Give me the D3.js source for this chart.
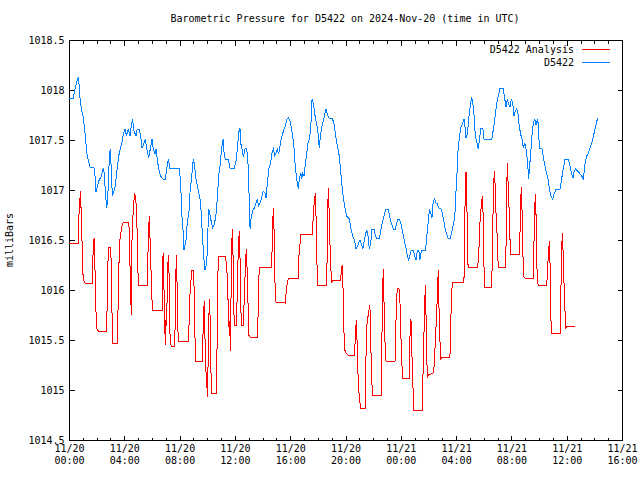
<!DOCTYPE html>
<html>
<head>
<meta charset="utf-8">
<script src="https://cdn.jsdelivr.net/npm/d3@7"></script>
<style>
  body { margin: 0; background: #fff; }
  text { font-family: "DejaVu Sans Mono", "Liberation Mono", monospace; font-size: 10px; fill: #000; }
</style>
</head>
<body>
<div id="plot"></div>
<script>
const title = 'Barometric Pressure for D5422 on 2024-Nov-20 (time in UTC)';
const yLabel = 'milliBars';
const startTime = '2024-11-20T00:00:00Z';
const seriesNames = ['D5422 Analysis', 'D5422'];
const yTicks = [1014.5, 1015, 1015.5, 1016, 1016.5, 1017, 1017.5, 1018, 1018.5];
const xTickHours = [0, 4, 8, 12, 16, 20, 24, 28, 32, 36, 40];

// [minutes after start, mb]
const stationReadings = [[0,1017.92],[19,1017.92],[26,1018.01],[33,1018.08],[40,1018.12],[45,1018.04],[48,1017.91],[55,1017.79],[62,1017.73],[69,1017.58],[77,1017.38],[84,1017.29],[91,1017.23],[110,1017.22],[114,1017.11],[117,1016.98],[123,1017.03],[132,1017.11],[138,1017.12],[146,1017.19],[149,1017.22],[153,1017.16],[159,1016.94],[164,1016.82],[169,1016.97],[175,1017.31],[179,1017.41],[184,1017.18],[188,1016.94],[195,1016.99],[201,1017.04],[210,1017.24],[218,1017.37],[229,1017.47],[236,1017.56],[243,1017.61],[250,1017.54],[257,1017.61],[265,1017.54],[269,1017.62],[276,1017.71],[282,1017.59],[291,1017.54],[296,1017.61],[305,1017.61],[311,1017.54],[317,1017.42],[326,1017.47],[331,1017.51],[337,1017.42],[346,1017.32],[355,1017.44],[360,1017.51],[366,1017.41],[373,1017.36],[378,1017.41],[383,1017.31],[389,1017.21],[398,1017.14],[407,1017.11],[418,1017.11],[424,1017.21],[431,1017.31],[438,1017.22],[479,1017.22],[485,1017.04],[489,1016.77],[496,1016.57],[499,1016.40],[508,1016.50],[513,1016.67],[522,1016.81],[525,1016.97],[537,1017.24],[539,1017.31],[544,1017.26],[551,1017.11],[557,1017.04],[569,1016.91],[574,1016.77],[580,1016.50],[586,1016.30],[590,1016.20],[598,1016.27],[604,1016.67],[607,1016.81],[613,1016.74],[619,1016.66],[624,1016.62],[632,1016.67],[639,1016.77],[645,1016.97],[651,1017.17],[657,1017.27],[662,1017.41],[669,1017.51],[673,1017.37],[678,1017.31],[691,1017.31],[699,1017.22],[717,1017.22],[725,1017.29],[732,1017.44],[736,1017.57],[742,1017.62],[745,1017.47],[751,1017.41],[756,1017.34],[761,1017.37],[765,1017.42],[771,1017.41],[776,1017.31],[780,1017.11],[783,1016.77],[786,1016.61],[790,1016.71],[797,1016.79],[804,1016.82],[812,1016.87],[817,1016.91],[823,1016.84],[829,1016.87],[836,1016.92],[843,1016.99],[851,1016.97],[855,1016.92],[861,1017.07],[868,1017.22],[875,1017.27],[881,1017.37],[887,1017.41],[893,1017.34],[898,1017.37],[904,1017.41],[910,1017.36],[916,1017.44],[921,1017.51],[927,1017.56],[933,1017.61],[939,1017.64],[945,1017.71],[953,1017.72],[959,1017.69],[965,1017.62],[971,1017.54],[977,1017.41],[981,1017.27],[985,1017.17],[991,1017.07],[995,1017.01],[1000,1017.11],[1006,1017.17],[1010,1017.11],[1014,1017.17],[1020,1017.14],[1026,1017.26],[1032,1017.37],[1037,1017.47],[1043,1017.51],[1049,1017.62],[1055,1017.91],[1059,1017.88],[1062,1017.84],[1068,1017.74],[1072,1017.69],[1078,1017.62],[1082,1017.54],[1086,1017.42],[1092,1017.56],[1098,1017.64],[1104,1017.69],[1110,1017.76],[1115,1017.81],[1121,1017.76],[1127,1017.72],[1144,1017.71],[1150,1017.66],[1156,1017.57],[1162,1017.47],[1169,1017.39],[1173,1017.34],[1177,1017.24],[1182,1017.11],[1188,1016.97],[1194,1016.87],[1199,1016.81],[1205,1016.74],[1217,1016.71],[1223,1016.62],[1231,1016.54],[1240,1016.49],[1246,1016.41],[1254,1016.45],[1263,1016.50],[1269,1016.46],[1275,1016.41],[1280,1016.48],[1286,1016.55],[1292,1016.60],[1298,1016.54],[1303,1016.42],[1309,1016.45],[1315,1016.61],[1324,1016.61],[1329,1016.55],[1335,1016.52],[1347,1016.52],[1353,1016.59],[1358,1016.66],[1364,1016.71],[1370,1016.77],[1376,1016.81],[1384,1016.81],[1390,1016.76],[1396,1016.69],[1402,1016.65],[1407,1016.61],[1416,1016.61],[1422,1016.67],[1428,1016.71],[1433,1016.71],[1440,1016.67],[1445,1016.61],[1451,1016.54],[1457,1016.47],[1463,1016.42],[1468,1016.35],[1474,1016.30],[1480,1016.35],[1486,1016.40],[1494,1016.40],[1500,1016.34],[1506,1016.30],[1512,1016.39],[1518,1016.40],[1523,1016.30],[1529,1016.39],[1538,1016.40],[1546,1016.40],[1552,1016.49],[1555,1016.61],[1561,1016.71],[1564,1016.81],[1570,1016.77],[1575,1016.72],[1581,1016.89],[1587,1016.91],[1593,1016.87],[1599,1016.86],[1605,1016.82],[1616,1016.81],[1622,1016.74],[1628,1016.67],[1633,1016.61],[1639,1016.56],[1645,1016.52],[1654,1016.51],[1659,1016.56],[1665,1016.62],[1671,1016.69],[1677,1016.81],[1680,1017.01],[1683,1017.11],[1687,1017.36],[1694,1017.52],[1700,1017.62],[1709,1017.67],[1714,1017.71],[1720,1017.61],[1723,1017.52],[1729,1017.56],[1733,1017.66],[1737,1017.76],[1743,1017.87],[1748,1017.92],[1752,1017.89],[1758,1017.74],[1762,1017.59],[1766,1017.51],[1772,1017.46],[1776,1017.41],[1781,1017.49],[1787,1017.62],[1796,1017.62],[1801,1017.51],[1835,1017.51],[1842,1017.61],[1849,1017.73],[1856,1017.86],[1863,1017.94],[1871,1018.02],[1885,1018.02],[1889,1017.94],[1897,1017.83],[1902,1017.91],[1908,1017.86],[1914,1017.83],[1920,1017.91],[1926,1017.86],[1931,1017.74],[1937,1017.79],[1943,1017.81],[1949,1017.76],[1954,1017.64],[1960,1017.56],[1966,1017.51],[1972,1017.42],[1978,1017.47],[1983,1017.42],[1989,1017.31],[1995,1017.11],[1998,1017.21],[2004,1017.37],[2009,1017.54],[2015,1017.66],[2021,1017.71],[2027,1017.65],[2033,1017.71],[2038,1017.64],[2041,1017.42],[2053,1017.41],[2058,1017.34],[2064,1017.26],[2070,1017.19],[2079,1017.11],[2085,1017.01],[2091,1016.94],[2099,1016.91],[2105,1016.96],[2114,1017.01],[2131,1017.01],[2137,1017.09],[2143,1017.19],[2153,1017.31],[2167,1017.31],[2174,1017.24],[2182,1017.16],[2187,1017.12],[2193,1017.19],[2199,1017.21],[2206,1017.19],[2215,1017.17],[2225,1017.14],[2232,1017.11],[2240,1017.27],[2247,1017.34],[2254,1017.37],[2261,1017.42],[2269,1017.47],[2276,1017.54],[2283,1017.61],[2290,1017.68],[2294,1017.72]];

const analysisReadings = [[0,1016.47],[40,1016.47],[41,1016.60],[45,1016.86],[51,1016.99],[52,1016.84],[56,1016.54],[59,1016.24],[62,1016.10],[69,1016.07],[101,1016.07],[102,1016.19],[105,1016.41],[109,1016.52],[112,1016.30],[116,1015.85],[120,1015.62],[127,1015.59],[164,1015.59],[165,1015.80],[168,1016.22],[172,1016.43],[181,1016.43],[184,1016.19],[187,1015.72],[190,1015.47],[211,1015.47],[212,1015.71],[216,1016.20],[220,1016.48],[224,1016.56],[230,1016.64],[236,1016.68],[260,1016.68],[262,1016.47],[268,1015.99],[270,1015.75],[273,1016.47],[279,1016.82],[285,1016.97],[289,1016.91],[294,1016.81],[296,1016.50],[299,1016.20],[302,1016.05],[340,1016.05],[342,1016.22],[344,1016.56],[349,1016.74],[352,1016.49],[355,1016.27],[359,1015.97],[362,1015.80],[404,1015.80],[405,1016.23],[409,1016.37],[412,1016.04],[415,1015.70],[418,1015.45],[421,1015.70],[424,1015.64],[427,1016.14],[431,1016.35],[434,1016.17],[438,1015.57],[443,1015.44],[457,1015.44],[460,1015.59],[464,1016.19],[467,1016.35],[470,1015.90],[474,1015.49],[520,1015.49],[522,1015.85],[528,1016.05],[533,1016.20],[539,1016.20],[544,1015.97],[547,1015.50],[550,1015.29],[579,1015.29],[580,1015.44],[584,1015.74],[587,1015.89],[590,1015.54],[593,1015.22],[598,1015.10],[600,1014.93],[603,1015.18],[606,1015.67],[610,1015.91],[613,1015.67],[616,1015.20],[619,1014.97],[641,1014.97],[642,1015.32],[645,1015.99],[648,1016.34],[678,1016.34],[681,1016.30],[687,1016.14],[691,1015.84],[696,1015.54],[699,1015.70],[702,1015.39],[704,1016.30],[709,1016.61],[712,1016.34],[715,1015.90],[717,1015.65],[728,1015.65],[730,1016.04],[735,1016.42],[739,1016.59],[742,1016.34],[745,1015.90],[748,1015.65],[756,1015.65],[758,1015.77],[763,1016.02],[765,1016.27],[770,1016.41],[773,1016.20],[776,1015.97],[780,1015.55],[786,1015.53],[819,1015.53],[820,1015.70],[823,1016.05],[826,1016.23],[880,1016.23],[881,1016.37],[884,1016.67],[887,1016.82],[890,1016.59],[893,1016.12],[898,1015.88],[939,1015.87],[942,1015.97],[947,1016.07],[953,1016.12],[995,1016.12],[998,1016.34],[1003,1016.47],[1006,1016.56],[1056,1016.56],[1058,1016.62],[1060,1016.76],[1065,1016.89],[1069,1016.97],[1072,1016.74],[1075,1016.42],[1078,1016.05],[1118,1016.05],[1120,1016.30],[1123,1016.77],[1125,1017.02],[1128,1016.87],[1131,1016.57],[1136,1016.24],[1140,1016.07],[1144,1016.10],[1179,1016.10],[1182,1016.20],[1186,1016.25],[1189,1016.05],[1192,1015.64],[1197,1015.40],[1202,1015.37],[1212,1015.35],[1238,1015.35],[1241,1015.44],[1244,1015.60],[1247,1015.70],[1250,1015.50],[1254,1015.17],[1260,1014.92],[1266,1014.82],[1286,1014.82],[1287,1015.14],[1292,1015.64],[1298,1015.74],[1302,1015.80],[1306,1015.85],[1309,1015.47],[1314,1015.17],[1316,1014.95],[1355,1014.95],[1357,1015.27],[1360,1015.90],[1364,1016.21],[1367,1015.90],[1371,1015.50],[1376,1015.28],[1415,1015.29],[1418,1015.47],[1420,1015.84],[1425,1016.02],[1432,1016.02],[1437,1015.85],[1440,1015.57],[1444,1015.30],[1448,1015.12],[1476,1015.12],[1477,1015.27],[1480,1015.55],[1484,1015.71],[1487,1015.49],[1490,1015.20],[1493,1015.02],[1496,1014.80],[1533,1014.80],[1535,1015.00],[1539,1015.45],[1544,1015.84],[1546,1016.05],[1549,1015.80],[1552,1015.44],[1555,1015.12],[1559,1015.15],[1581,1015.17],[1585,1015.25],[1591,1015.54],[1596,1015.77],[1600,1016.05],[1603,1016.20],[1606,1015.80],[1610,1015.49],[1613,1015.30],[1616,1015.32],[1653,1015.33],[1656,1015.50],[1659,1015.90],[1664,1016.08],[1714,1016.08],[1716,1016.34],[1719,1016.90],[1723,1017.18],[1726,1016.94],[1729,1016.61],[1732,1016.22],[1774,1016.23],[1776,1016.30],[1781,1016.49],[1784,1016.69],[1789,1016.84],[1794,1016.94],[1798,1016.71],[1801,1016.25],[1803,1016.03],[1835,1016.03],[1836,1016.21],[1839,1016.61],[1842,1016.99],[1846,1017.19],[1849,1017.07],[1852,1016.82],[1857,1016.61],[1861,1016.34],[1863,1016.23],[1895,1016.23],[1897,1016.49],[1900,1017.00],[1902,1017.27],[1905,1017.11],[1910,1016.81],[1914,1016.50],[1917,1016.36],[1954,1016.36],[1957,1016.54],[1960,1016.86],[1963,1017.03],[1966,1016.81],[1969,1016.50],[1972,1016.14],[1978,1016.12],[2016,1016.11],[2017,1016.34],[2020,1016.74],[2024,1016.96],[2027,1016.74],[2030,1016.29],[2033,1016.07],[2037,1016.05],[2073,1016.05],[2076,1016.14],[2079,1016.30],[2082,1016.40],[2085,1016.49],[2088,1016.24],[2091,1015.80],[2093,1015.57],[2132,1015.57],[2134,1015.82],[2137,1016.34],[2141,1016.57],[2144,1016.40],[2148,1016.09],[2153,1015.77],[2156,1015.62],[2163,1015.64],[2196,1015.64]];

const width = 640;
const height = 480;
const margin = { top: 40, right: 18, bottom: 40, left: 69 };

const svg = d3.select('#plot').append('svg')
    .attr('width', width)
    .attr('height', height);

const t0 = new Date(startTime);
const toDate = m => new Date(t0.getTime() + m * 60000);

const x = d3.scaleUtc()
    .domain([toDate(0), toDate(40 * 60)])
    .range([margin.left, width - margin.right]);
const y = d3.scaleLinear()
    .domain([1014.5, 1018.5])
    .range([height - margin.bottom, margin.top]);

const majorX = xTickHours.map(h => toDate(h * 60));
const minorX = d3.range(0, 41).filter(h => h % 4 !== 0).map(h => toDate(h * 60));
const dayFmt = d3.utcFormat('%m/%d');
const hourFmt = d3.utcFormat('%H:%M');

// frame
svg.append('rect')
    .attr('x', margin.left + 0.5)
    .attr('y', margin.top + 0.5)
    .attr('width', width - margin.left - margin.right)
    .attr('height', height - margin.top - margin.bottom)
    .attr('fill', 'none')
    .attr('stroke', '#000')
    .attr('shape-rendering', 'crispEdges');

// y axes (ticks pointing in)
svg.append('g')
    .attr('transform', `translate(${margin.left + 0.5},0)`)
    .call(d3.axisLeft(y).tickValues(yTicks).tickSizeInner(-5).tickSizeOuter(0)
        .tickPadding(5).tickFormat(d => String(d)))
    .call(g => g.select('.domain').remove());
svg.append('g')
    .attr('transform', `translate(${width - margin.right + 0.5},0)`)
    .call(d3.axisRight(y).tickValues(yTicks).tickSizeInner(-5).tickSizeOuter(0).tickFormat(''))
    .call(g => g.select('.domain').remove());

// x axes, bottom with labels, top mirrored
const bottomAxis = svg.append('g')
    .attr('transform', `translate(0,${height - margin.bottom + 0.5})`)
    .call(d3.axisBottom(x).tickValues(majorX).tickSizeInner(-5).tickSizeOuter(0)
        .tickPadding(8).tickFormat(''))
    .call(g => g.select('.domain').remove());
bottomAxis.selectAll('.tick text')
    .each(function (d) {
      const t = d3.select(this);
      t.append('tspan').attr('x', 0).attr('dy', '0.35em').text(dayFmt(d));
      t.append('tspan').attr('x', 0).attr('dy', '1.2em').text(hourFmt(d));
    });
svg.append('g')
    .attr('transform', `translate(0,${height - margin.bottom + 0.5})`)
    .call(d3.axisBottom(x).tickValues(minorX).tickSizeInner(-3).tickSizeOuter(0).tickFormat(''))
    .call(g => g.select('.domain').remove());
svg.append('g')
    .attr('transform', `translate(0,${margin.top + 0.5})`)
    .call(d3.axisTop(x).tickValues(majorX).tickSizeInner(-5).tickSizeOuter(0).tickFormat(''))
    .call(g => g.select('.domain').remove());
svg.append('g')
    .attr('transform', `translate(0,${margin.top + 0.5})`)
    .call(d3.axisTop(x).tickValues(minorX).tickSizeInner(-3).tickSizeOuter(0).tickFormat(''))
    .call(g => g.select('.domain').remove());

svg.selectAll('.tick line').attr('shape-rendering', 'crispEdges');

// title and y label
svg.append('text')
    .attr('x', 345)
    .attr('y', 19)
    .attr('text-anchor', 'middle')
    .attr('dominant-baseline', 'middle')
    .text(title);
svg.append('text')
    .attr('transform', 'translate(10,240) rotate(-90)')
    .attr('text-anchor', 'middle')
    .attr('dominant-baseline', 'middle')
    .text(yLabel);

const color = d3.scaleOrdinal()
    .domain(seriesNames)
    .range(['#ff0000', '#0080ff']);

const line = d3.line()
    .x(d => x(toDate(d[0])))
    .y(d => y(d[1]));

const series = [
  { key: seriesNames[0], values: analysisReadings },
  { key: seriesNames[1], values: stationReadings },
];

// gnuplot png lines are not antialiased
svg.append('g').selectAll('path')
    .data(series)
    .enter()
    .append('path')
    .attr('fill', 'none')
    .attr('stroke', d => color(d.key))
    .attr('stroke-width', 1)
    .attr('shape-rendering', 'crispEdges')
    .attr('d', d => line(d.values));

// legend
const legend = svg.append('g');
legend.selectAll('text')
    .data(seriesNames)
    .enter()
    .append('text')
    .attr('x', 574)
    .attr('y', (d, i) => 50 + i * 13)
    .attr('text-anchor', 'end')
    .attr('dominant-baseline', 'middle')
    .text(d => d);
legend.selectAll('line')
    .data(seriesNames)
    .enter()
    .append('line')
    .attr('x1', 582)
    .attr('x2', 610)
    .attr('y1', (d, i) => 49.5 + i * 13)
    .attr('y2', (d, i) => 49.5 + i * 13)
    .attr('stroke', d => color(d))
    .attr('stroke-width', 1)
    .attr('shape-rendering', 'crispEdges');
</script>
</body>
</html>
